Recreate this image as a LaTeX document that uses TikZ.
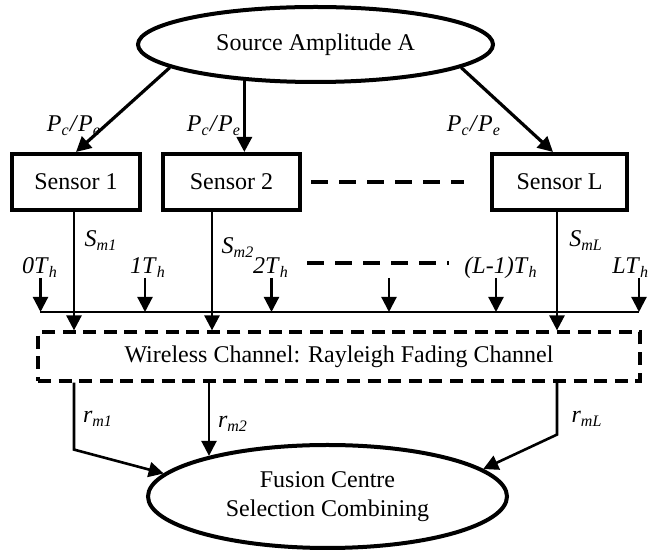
\documentclass[tikz,border=0pt]{standalone}
\usepackage{fontspec}
\setmainfont{Liberation Serif}
\usetikzlibrary{shapes.geometric,arrows.meta}
\newcommand{\lbl}[2]{\textit{#1}\textsubscript{\textit{#2}}}

\begin{document}
\begin{tikzpicture}[x=0.5pt,y=-0.5pt,font=\fontsize{12}{14.5}\selectfont,
  tip/.style={-{Triangle[length=7.5pt,width=7.5pt]}},
  blob/.style={ellipse,draw,line width=2pt},
  sensorbox/.style={draw,line width=2pt,minimum height=28pt},
  gapline/.style={line width=1.7pt,dash pattern=on 8.5pt off 5.5pt},
  chanbox/.style={draw,line width=1.6pt,dash pattern=on 6.5pt off 3.8pt}]
\tikzstyle{every node}+=[inner sep=0pt]
\useasboundingbox (0,0) rectangle (655,550);
\node[blob,minimum width=177.5pt,minimum height=37.5pt] (src) at (315.5,44.5) {Source Amplitude A};
\node[sensorbox,minimum width=64pt] (s1) at (76,182) {Sensor 1};
\node[sensorbox,minimum width=68.5pt] (s2) at (231.5,182) {Sensor 2};
\node[sensorbox,minimum width=67.5pt] (sL) at (559.5,182) {Sensor L};
\node[chanbox,minimum width=301pt,minimum height=24.5pt] (ch) at (339,356.5) {Wireless Channel: Rayleigh Fading Channel};
\node[blob,minimum width=179.5pt,minimum height=51.5pt,align=center] (fc) at (327.5,496.5) {Fusion Centre\\Selection Combining};
\draw[tip,line width=1.6pt] (src.189) -- (s1.north);
\draw[tip,line width=1.6pt] (src.207.6) -- (src.207.6 |- s2.north);
\draw[tip,line width=1.6pt] (src.351) -- ([xshift=-3.25pt]sL.north);
\draw[gapline] ([xshift=4.5pt]s2.east) -- ([xshift=-13pt]sL.west);
\node[anchor=base] (p1) at (74,132) {\lbl{P}{c}\textit{/}\lbl{P}{e}};
\node[anchor=base] (p2) at (214,132) {\lbl{P}{c}\textit{/}\lbl{P}{e}};
\node[anchor=base] (pL) at (474,132) {\lbl{P}{c}\textit{/}\lbl{P}{e}};
\coordinate (l1) at ([xshift=-1pt]s1.south);
\coordinate (l2) at ([xshift=-9.75pt]s2.south);
\coordinate (lL) at ([xshift=-1.25pt]sL.south);
\draw[tip,line width=1.3pt] (l1) -- (l1 |- ch.north);
\draw[tip,line width=1.3pt] (l2) -- (l2 |- ch.north);
\draw[tip,line width=1.3pt] (lL) -- (lL |- ch.north);
\node[anchor=base] (sm1) at (101,247) {\lbl{S}{m1}};
\node[anchor=base] (sm2) at (238,254) {\lbl{S}{m2}};
\node[anchor=base] (smL) at (586,247) {\lbl{S}{mL}};
\node[anchor=base] (h0) at (40,274) {\lbl{0T}{h}};
\node[anchor=base] (h1) at (148,274) {\lbl{1T}{h}};
\node[anchor=base] (h2) at (271,274) {\lbl{2T}{h}};
\node[anchor=base] (hm) at (501,274) {\lbl{(L-1)T}{h}};
\node[anchor=base west] (hL) at (612,274) {\lbl{LT}{h}};
\draw[gapline] (307,263) -- (449,263);
\foreach \i/\x in {0/40.5,1/145,2/271.5,3/389,4/496,5/639} {
  \coordinate (t\i) at (\x,278);
  \coordinate (b\i) at (\x,312);
  \draw[tip,line width=1.1pt] (t\i) -- (b\i);
}
\draw[line width=1.3pt] (40,312) -- (b5);
\coordinate (o2) at (209,381);
\draw[tip,line width=1.3pt] (l1 |- ch.south) -- ++(0,67) -- (fc.172);
\draw[tip,line width=1.3pt] (o2) -- (o2 |- fc.161.9);
\draw[tip,line width=1.3pt] (lL |- ch.south) -- ++(0,52) -- (fc.10);
\node[anchor=base] (r1) at (98,423) {\lbl{r}{m1}};
\node[anchor=base] (r2) at (233,428) {\lbl{r}{m2}};
\node[anchor=base] (rL) at (587,423) {\lbl{r}{mL}};
\end{tikzpicture}
\end{document}
